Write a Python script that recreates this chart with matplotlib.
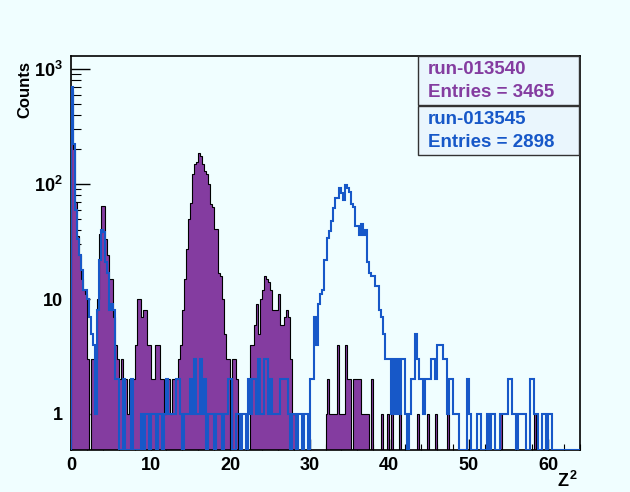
import numpy as np
import matplotlib.pyplot as plt
from matplotlib.patches import Rectangle
from matplotlib.ticker import FixedLocator, NullFormatter

# Z^2 histograms, 256 bins from 0 to 64 (bin width 0.25)
z2_lo, z2_hi, nbins = 0, 64, 256

# run-013540 (filled purple), 8 bins per row = 2 units of Z^2
run540 = [
    650, 200, 70, 35, 24, 15, 12, 11,      # 0-2
    3, 0, 3, 3, 3, 10, 37, 64,             # 2-4
    64, 33, 24, 15, 15, 7, 4, 3,           # 4-6
    2, 3, 2, 2, 1, 2, 2, 2,                # 6-8
    4, 10, 10, 7, 8, 8, 4, 4,              # 8-10
    2, 2, 4, 4, 4, 2, 2, 1,                # 10-12
    2, 2, 1, 2, 2, 2, 3, 4,                # 12-14
    8, 15, 27, 50, 68, 122, 149, 157,      # 14-16
    185, 175, 148, 130, 122, 100, 67, 63,  # 16-18
    41, 41, 17, 16, 10, 5, 3, 3,           # 18-20
    0, 3, 3, 2, 0, 0, 0, 0,                # 20-22
    0, 0, 4, 4, 6, 9, 5, 10,               # 22-24
    12, 16, 15, 14, 12, 8, 8, 8,           # 24-26
    11, 6, 6, 7, 8, 7, 3, 1,               # 26-28
    1, 0, 0, 0, 0, 0, 0, 0,                # 28-30
    0, 0, 0, 0, 0, 0, 0, 0,                # 30-32
    1, 2, 1, 1, 1, 1, 4, 1,                # 32-34
    1, 1, 4, 2, 2, 0, 2, 2,                # 34-36
    2, 2, 1, 1, 1, 1, 0, 2,                # 36-38
    0, 0, 0, 0, 1, 0, 0, 1,                # 38-40
    0, 1, 0, 0, 0, 1, 0, 0,                # 40-42
    0, 0, 0, 0, 0, 0, 1, 0,                # 42-44
    0, 0, 0, 1, 0, 0, 0, 1,                # 44-46
    0, 0, 0, 0, 0, 1, 0, 0,                # 46-48
    0, 0, 0, 0, 0, 0, 0, 0,                # 48-50
    0, 0, 0, 0, 0, 0, 0, 0,                # 50-52
    0, 0, 0, 0, 0, 0, 0, 0,                # 52-54
    1, 0, 0, 0, 0, 0, 0, 0,                # 54-56
    0, 0, 0, 0, 0, 0, 0, 0,                # 56-58
    0, 1, 0, 0, 0, 0, 0, 0,                # 58-60
    0, 0, 0, 0, 0, 0, 0, 0,                # 60-62
    0, 0, 0, 0, 0, 0, 0, 0,                # 62-64
]

# run-013545 (blue outline)
run545 = [
    700, 221, 60, 33, 24, 18, 12, 12,      # 0-2
    10, 7, 5, 4, 1, 8, 22, 40,             # 2-4
    38, 21, 17, 8, 9, 8, 2, 2,             # 4-6
    0, 0, 2, 0, 0, 0, 2, 0,                # 6-8
    0, 0, 0, 1, 0, 1, 1, 0,                # 8-10
    1, 1, 1, 0, 1, 1, 0, 1,                # 10-12
    2, 1, 1, 1, 1, 2, 2, 1,                # 12-14
    0, 1, 1, 1, 2, 1, 3, 1,                # 14-16
    1, 3, 1, 2, 0, 1, 1, 1,                # 16-18
    0, 1, 1, 1, 0, 1, 1, 2,                # 18-20
    2, 0, 0, 1, 1, 0, 1, 1,                # 20-22
    0, 2, 1, 2, 2, 1, 3, 1,                # 22-24
    1, 3, 3, 1, 2, 1, 1, 1,                # 24-26
    1, 2, 2, 2, 2, 1, 0, 1,                # 26-28
    1, 0, 1, 1, 0, 1, 1, 0,                # 28-30
    2, 2, 7, 4, 9, 11, 12, 22,             # 30-32
    22, 34, 39, 48, 62, 76, 76, 93,        # 32-34
    84, 72, 98, 93, 85, 67, 63, 43,        # 34-36
    43, 36, 45, 36, 40, 21, 17, 16,        # 36-38
    16, 13, 13, 8, 7, 5, 3, 3,             # 38-40
    3, 1, 3, 1, 3, 1, 3, 3,                # 40-42
    1, 0, 1, 2, 2, 5, 3, 2,                # 42-44
    2, 1, 2, 2, 2, 3, 3, 2,                # 44-46
    4, 4, 4, 3, 3, 1, 2, 2,                # 46-48
    1, 1, 1, 0, 0, 0, 0, 2,                # 48-50
    1, 0, 0, 0, 1, 1, 0, 0,                # 50-52
    0, 1, 0, 1, 1, 0, 0, 0,                # 52-54
    1, 1, 1, 1, 2, 2, 1, 1,                # 54-56
    0, 1, 1, 1, 1, 0, 0, 2,                # 56-58
    2, 1, 1, 0, 0, 1, 1, 0,                # 58-60
    1, 1, 0, 0, 0, 0, 0, 0,                # 60-62
    0, 0, 0, 0, 0, 0, 0, 0,                # 62-64
]

labels = ["run-013540", "run-013545"]
entries = [3465, 2898]

bg = "#f0feff"
purple = "#843ca0"
blue = "#1758c8"

plt.rcParams["font.family"] = ["Liberation Sans", "DejaVu Sans"]
plt.rcParams["font.weight"] = "bold"
plt.rcParams["mathtext.fontset"] = "custom"
plt.rcParams["mathtext.rm"] = "Liberation Sans:bold"
plt.rcParams["mathtext.bf"] = "Liberation Sans:bold"
plt.rcParams["mathtext.it"] = "Liberation Sans:bold"

fig = plt.figure(figsize=(6.3, 4.92), dpi=100, facecolor=bg)
ax = fig.add_axes([71/630, 1 - 450/492, 509/630, 394/492], facecolor=bg)

edges = np.linspace(z2_lo, z2_hi, nbins + 1)
ymin, ymax = 0.486, 1300

h1 = np.maximum(np.array(run540, float), ymin)
h2 = np.maximum(np.array(run545, float), ymin)

ax.stairs(h1, edges, baseline=ymin, fill=True, color=purple, zorder=2)
ax.stairs(h1, edges, baseline=ymin, color="black", lw=0.8, zorder=3)
ax.stairs(h2, edges, baseline=ymin, color=blue, lw=1.5, zorder=4)

ax.set_yscale("log")
ax.set_xlim(z2_lo, z2_hi)
ax.set_ylim(ymin, ymax)

# ticks ROOT style: inside, only bottom and left
ax.set_xticks(range(0, 61, 10))
ax.set_xticks(np.arange(0, 64.1, 2), minor=True)
ax.set_xticklabels([str(v) for v in range(0, 61, 10)], fontsize=13, fontweight="bold")
ax.yaxis.set_major_locator(FixedLocator([1, 10, 100, 1000]))
ax.set_yticklabels(["1", "10", r"$10^{2}$", r"$10^{3}$"], fontsize=13)
minors = [m * 10**e for e in range(-1, 4) for m in range(2, 10)]
ax.yaxis.set_minor_locator(FixedLocator(minors))
ax.yaxis.set_minor_formatter(NullFormatter())
ax.tick_params(which="major", direction="in", length=14, width=1, pad=6)
ax.tick_params(axis="x", which="major", length=8, pad=5)
ax.tick_params(which="minor", direction="in", length=7, width=0.8)
ax.tick_params(axis="x", which="minor", length=4)

for s in ax.spines.values():
    s.set_linewidth(1.2)

fig.text(25/630, 1 - 90/492, "Counts", fontsize=12, fontweight="bold",
         rotation=90, ha="center", va="center")
fig.text(567/630, 1 - 481/492, r"$Z^{2}$", fontsize=13, ha="center", va="center")

# stats boxes
x0, w = (418 - 71) / 509, (579 - 418) / 509
box_tops = [1.0, 1 - 50 / 394]
box_h = 49 / 394
for i, (lab, n, col) in enumerate(zip(labels, entries, [purple, blue])):
    top = box_tops[i]
    ax.add_patch(Rectangle((x0, top - box_h), w, box_h, transform=ax.transAxes,
                           facecolor="#eaf6fd", edgecolor="#333333", lw=1.0,
                           zorder=6, clip_on=False))
    ax.text(x0 + 0.02, top - box_h * 0.27, lab, transform=ax.transAxes,
            color=col, fontsize=13.5, fontweight="bold", va="center", zorder=7)
    ax.text(x0 + 0.02, top - box_h * 0.74, "Entries = %d" % n, transform=ax.transAxes,
            color=col, fontsize=13.5, fontweight="bold", va="center", zorder=7)

fig.savefig("out.png", dpi=100, facecolor=bg)
